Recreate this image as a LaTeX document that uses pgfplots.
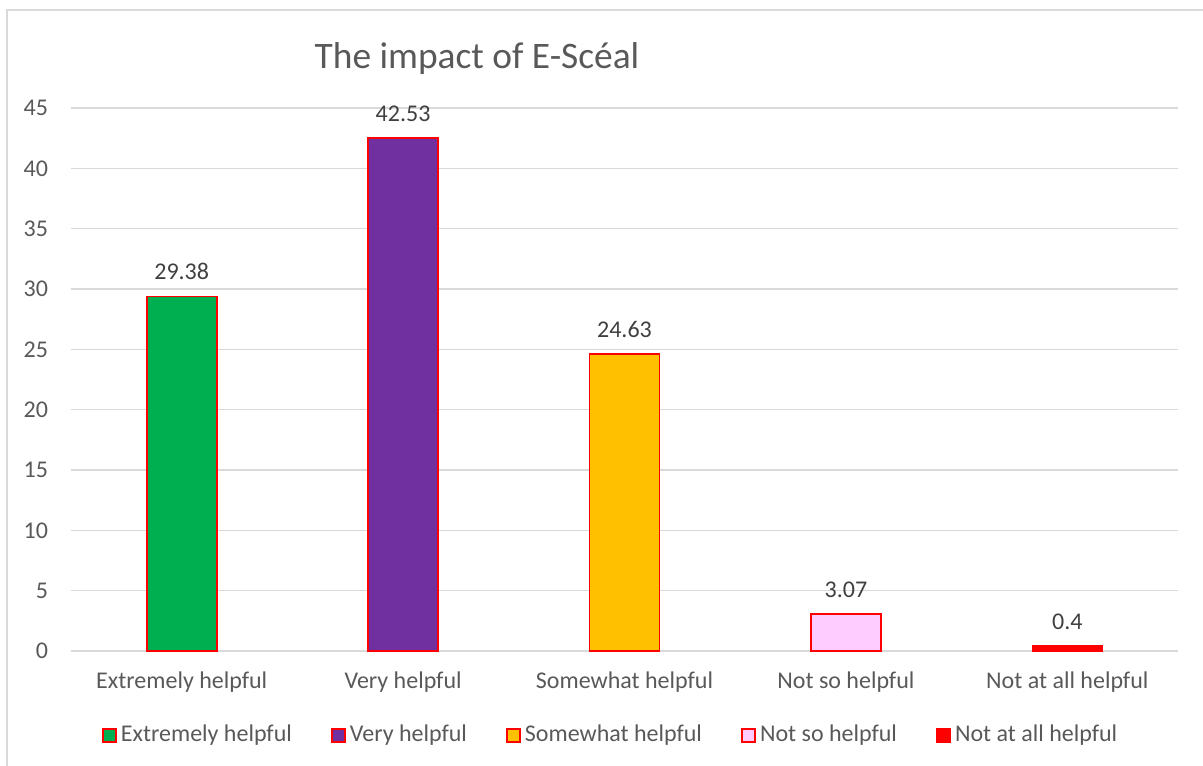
\documentclass[border=0pt]{standalone}
\usepackage{fontspec}
\setmainfont{Carlito}
\usepackage{pgfplots}
\pgfplotsset{compat=1.18}

\definecolor{gridgray}{HTML}{D9D9D9}
\definecolor{txtgray}{HTML}{595959}
\definecolor{lblgray}{HTML}{404040}
\definecolor{cGreen}{HTML}{00B050}
\definecolor{cPurple}{HTML}{7030A0}
\definecolor{cOrange}{HTML}{FFC000}
\definecolor{cPink}{HTML}{FFCCFF}
\definecolor{cRed}{HTML}{FF0000}

\pgfplotsset{
  sqlegend/.style={legend image code/.code={%
    \draw[##1, line width=1pt] (0pt,-3.25pt) rectangle (6.5pt,3.25pt);}},
  barstyle/.style={draw=cRed, line width=0.8pt, fill=#1, sqlegend},
}

\begin{document}
\begin{tikzpicture}[x=1pt,y=1pt]
  \path[use as bounding box] (0,0) rectangle (601.5,382.5);
  % chart frame
  \draw[gridgray, line width=0.9pt] (3.4,-2) -- (3.4,377.5) -- (605,377.5);
  % title
  \node[font=\fontsize{18.7}{22}\selectfont, text=txtgray] at (238.5,353) {The impact of E-Scéal};
  \begin{axis}[
    at={(35.5pt,57pt)}, anchor=south west,
    scale only axis, width=553.5pt, height=271.5pt,
    xmin=-0.5, xmax=4.5, ymin=0, ymax=45,
    ytick={0,5,...,45},
    xtick={0,1,2,3,4},
    xticklabels={Extremely helpful, Very helpful, Somewhat helpful, Not so helpful, Not at all helpful},
    axis line style={draw=none},
    major tick length=0pt,
    ymajorgrids,
    grid style={gridgray, line width=0.75pt},
    /pgf/number format/assume math mode=true,
    tick label style={font=\fontsize{12}{14}\selectfont, text=txtgray},
    yticklabel style={xshift=-8pt},
    xticklabel style={yshift=-7pt},
    ybar, bar width=35pt, bar shift=0pt,
    nodes near coords,
    point meta=y,
    every node near coord/.append style={font=\fontsize{12}{14}\selectfont, text=lblgray, yshift=4.5pt,
      /pgf/number format/fixed, /pgf/number format/precision=2},
    legend columns=5,
    legend style={at={(axis description cs:0.4883,-0.1547)}, anchor=center, draw=none, fill=none,
      font=\fontsize{12}{14}\selectfont, text=txtgray,
      /tikz/every even column/.append style={column sep=17.5pt}},
  ]
    \addplot[barstyle=cGreen]  coordinates {(0,29.38)};
    \addplot[barstyle=cPurple] coordinates {(1,42.53)};
    \addplot[barstyle=cOrange] coordinates {(2,24.63)};
    \addplot[barstyle=cPink]   coordinates {(3,3.07)};
    \addplot[barstyle=cRed]    coordinates {(4,0.4)};
    \legend{Extremely helpful, Very helpful, Somewhat helpful, Not so helpful, Not at all helpful}
  \end{axis}
\end{tikzpicture}
\end{document}
